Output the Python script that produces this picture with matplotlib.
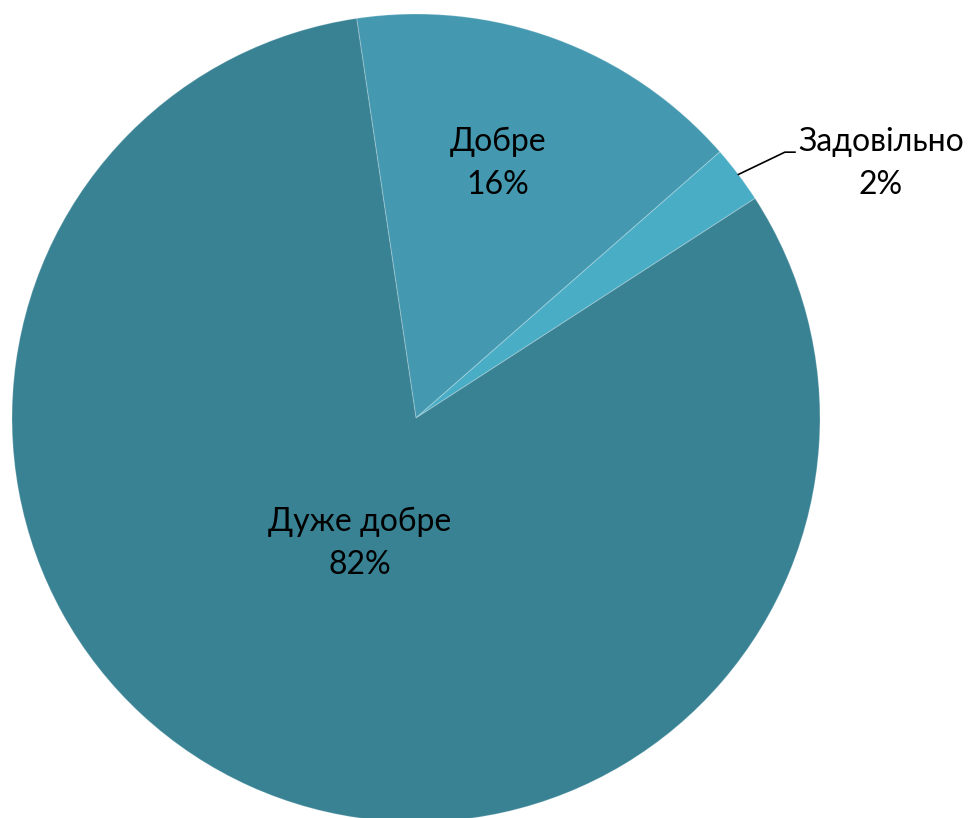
import numpy as np
import matplotlib
matplotlib.use("Agg")
import matplotlib.pyplot as plt

categories = ["Добре", "Задовільно", "Дуже добре"]
values = [15.9, 2.3, 81.8]
pct_labels = ["16%", "2%", "82%"]
colors = ["#4499B0", "#4AADC6", "#388294"]

plt.rcParams['font.family'] = ['Lato', 'DejaVu Sans']

fig = plt.figure(figsize=(9.68, 8.18), dpi=100)
ax = fig.add_axes([0, 0, 1, 1])
wedges, _ = ax.pie(values, colors=colors, startangle=98.45, counterclock=False,
                   radius=1.0, center=(0, 0),
                   wedgeprops=dict(edgecolor=(1, 1, 1, 0.22), linewidth=0.8))
ax.set_xlim(-416 / 404, (968 - 416) / 404)
ax.set_ylim(-(818 - 418) / 404, 418 / 404)
ax.set_aspect('auto')
ax.axis('off')

fs = 23
ls = 1.55
lab_pos = {0: (0.663, 2.3), 2: (0.34, 0.0)}
for i, w in enumerate(wedges):
    if i in lab_pos:
        r, off = lab_pos[i]
        mid = np.deg2rad((w.theta1 + w.theta2) / 2 + off)
        ax.text(r * np.cos(mid), r * np.sin(mid), f"{categories[i]}\n{pct_labels[i]}",
                ha='center', va='center', fontsize=fs, linespacing=ls, color='black')
    else:
        mid = np.deg2rad((w.theta1 + w.theta2) / 2)
        x0, y0 = np.cos(mid), np.sin(mid)
        ax.plot([x0, 0.913, 0.938], [y0, 0.658, 0.658], color='black', lw=1.2)
        ax.text(1.151, 0.629, f"{categories[i]}\n{pct_labels[i]}",
                ha='center', va='center', fontsize=fs, linespacing=ls, color='black')

fig.savefig("out.png", dpi=100)
